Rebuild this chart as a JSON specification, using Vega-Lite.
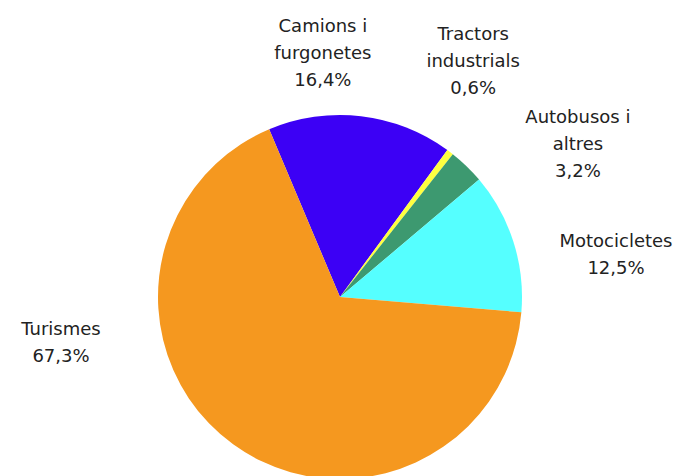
{
  "$schema": "https://vega.github.io/schema/vega-lite/v6.json",
  "width": 680,
  "height": 594,
  "autosize": {"type": "none"},
  "padding": 0,
  "background": "white",
  "config": {"view": {"stroke": null}},
  "data": {
    "values": [
      {"cat": "Camions i furgonetes", "label": "Camions i\nfurgonetes\n16,4%", "value": 16.4, "order": 1},
      {"cat": "Tractors industrials", "label": "Tractors\nindustrials\n0,6%", "value": 0.6, "order": 2},
      {"cat": "Autobusos i altres", "label": "Autobusos i\naltres\n3,2%", "value": 3.2, "order": 3},
      {"cat": "Motocicletes", "label": "Motocicletes\n12,5%", "value": 12.5, "order": 4},
      {"cat": "Turismes", "label": "Turismes\n67,3%", "value": 67.3, "order": 5}
    ]
  },
  "layer": [
    {
      "mark": {"type": "arc", "radius": 182},
      "encoding": {
        "theta": {"field": "value", "type": "quantitative", "stack": true, "scale": {"range": [5.8835, 12.1667]}},
        "order": {"field": "order", "type": "quantitative"},
        "color": {
          "field": "cat", "type": "nominal", "legend": null,
          "scale": {
            "domain": ["Camions i furgonetes", "Tractors industrials", "Autobusos i altres", "Motocicletes", "Turismes"],
            "range": ["#3C00F5", "#FFFF40", "#3D9970", "#55FFFF", "#F5981F"]
          }
        }
      }
    },
    {
      "transform": [{"filter": "datum.order === 1"}],
      "mark": {"type": "text", "theta": 6.2186, "radius": 265.5, "align": "center", "baseline": "alphabetic", "lineBreak": "\n", "lineHeight": 27, "font": "DejaVu Sans", "fontSize": 18, "color": "#222"},
      "encoding": {"text": {"field": "label"}}
    },
    {
      "transform": [{"filter": "datum.order === 2"}],
      "mark": {"type": "text", "theta": 0.4782, "radius": 289.4, "align": "center", "baseline": "alphabetic", "lineBreak": "\n", "lineHeight": 27, "font": "DejaVu Sans", "fontSize": 18, "color": "#222"},
      "encoding": {"text": {"field": "label"}}
    },
    {
      "transform": [{"filter": "datum.order === 3"}],
      "mark": {"type": "text", "theta": 0.939, "radius": 294.8, "align": "center", "baseline": "alphabetic", "lineBreak": "\n", "lineHeight": 27, "font": "DejaVu Sans", "fontSize": 18, "color": "#222"},
      "encoding": {"text": {"field": "label"}}
    },
    {
      "transform": [{"filter": "datum.order === 4"}],
      "mark": {"type": "text", "theta": 1.391, "radius": 280.5, "align": "center", "baseline": "alphabetic", "lineBreak": "\n", "lineHeight": 27, "font": "DejaVu Sans", "fontSize": 18, "color": "#222"},
      "encoding": {"text": {"field": "label"}}
    },
    {
      "transform": [{"filter": "datum.order === 5"}],
      "mark": {"type": "text", "theta": 4.5763, "radius": 281.6, "align": "center", "baseline": "alphabetic", "lineBreak": "\n", "lineHeight": 27, "font": "DejaVu Sans", "fontSize": 18, "color": "#222"},
      "encoding": {"text": {"field": "label"}}
    }
  ]
}
